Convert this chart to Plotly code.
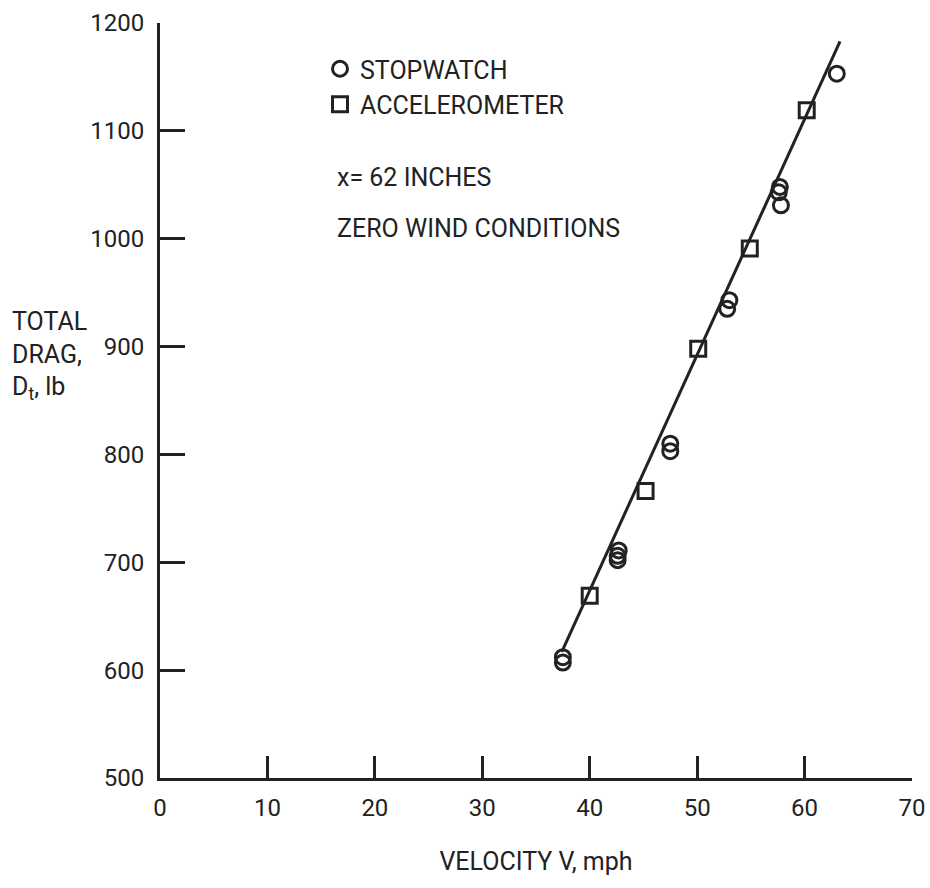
import plotly.graph_objects as go

# Data
stop_v = [37.5, 37.5, 42.6, 42.6, 42.7, 47.5, 47.5, 52.8, 53.0, 57.6, 57.7, 57.8, 63.0]
stop_d = [607, 612, 702, 706, 711, 803, 810, 935, 943, 1043, 1048, 1031, 1153]
acc_v = [40.0, 45.2, 50.1, 54.9, 60.2]
acc_d = [669, 766, 898, 991, 1119]
fit_v = [37.4, 63.3]
fit_d = [617, 1183]
x_ticks = [0, 10, 20, 30, 40, 50, 60, 70]
y_ticks = [500, 600, 700, 800, 900, 1000, 1100, 1200]

FONT = "Roboto, Liberation Sans, sans-serif"
INK = "#222222"

fig = go.Figure()
fig.add_trace(go.Scatter(x=fit_v, y=fit_d, mode="lines", line=dict(color=INK, width=3), showlegend=False, hoverinfo="skip"))
fig.add_trace(go.Scatter(x=stop_v, y=stop_d, mode="markers", name="STOPWATCH",
                         marker=dict(symbol="circle-open", size=15, color=INK, line=dict(width=3, color=INK))))
fig.add_trace(go.Scatter(x=acc_v, y=acc_d, mode="markers", name="ACCELEROMETER",
                         marker=dict(symbol="square-open", size=15, color=INK, line=dict(width=3, color=INK))))

fig.update_layout(
    width=930, height=888,
    margin=dict(l=160, r=18, t=23, b=110),
    paper_bgcolor="white", plot_bgcolor="white",
    font=dict(family=FONT, size=25, color=INK),
    legend=dict(x=(320 - 160) / 752, y=1 - (46 - 23) / 755, xanchor="left", yanchor="top",
                bgcolor="rgba(0,0,0,0)", font=dict(size=25), itemwidth=30, tracegroupgap=0),
    xaxis=dict(range=[0, 70], tickvals=x_ticks, ticks="inside", ticklen=22, tickwidth=2.5, tickcolor=INK,
               showline=True, linecolor=INK, linewidth=3, showgrid=False, zeroline=False,
               ticklabelstandoff=6, automargin=False, tickfont=dict(size=24),
               title=dict(text="VELOCITY V, mph", font=dict(size=25), standoff=32)),
    yaxis=dict(range=[500, 1200], tickvals=y_ticks, ticks="inside", ticklen=25, tickwidth=2.5, tickcolor=INK,
               showline=True, linecolor=INK, linewidth=3, showgrid=False, zeroline=False,
               ticklabelstandoff=8, automargin=False, tickfont=dict(size=24)),
    annotations=[
        dict(text="x= 62 INCHES", xref="paper", yref="paper", x=(335 - 160) / 752, y=1 - (178 - 23) / 755,
             xanchor="left", yanchor="middle", showarrow=False, font=dict(size=25)),
        dict(text="ZERO WIND CONDITIONS", xref="paper", yref="paper", x=(335 - 160) / 752, y=1 - (228 - 23) / 755,
             xanchor="left", yanchor="middle", showarrow=False, font=dict(size=25)),
        dict(text="TOTAL<br>DRAG,<br>D<sub>t</sub>, lb", xref="paper", yref="paper", x=-150 / 752, y=1 - (356 - 23) / 755,
             xanchor="left", yanchor="middle", align="left", showarrow=False, font=dict(size=25)),
    ],
)

fig.write_html("out.html")
